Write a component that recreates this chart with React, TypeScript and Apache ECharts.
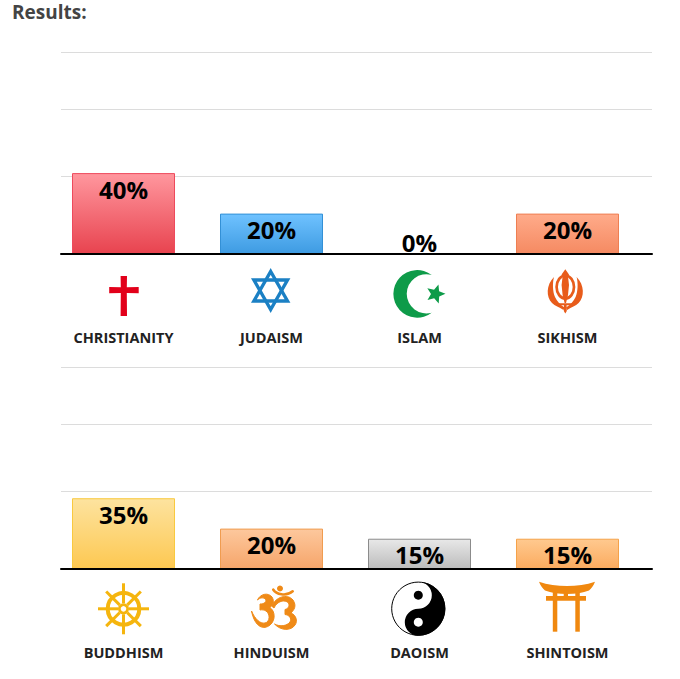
import React, { useEffect, useRef } from "react";
import * as echarts from "echarts";

const topCategories = ["CHRISTIANITY", "JUDAISM", "ISLAM", "SIKHISM"];
const topValues = [40, 20, 0, 20];
const bottomCategories = ["BUDDHISM", "HINDUISM", "DAOISM", "SHINTOISM"];
const bottomValues = [35, 20, 15, 15];
const gridValues = [38.6, 71.8, 100];
const topColors = [
  ["#ff979e", "#e8434f", "#ee4a5c"],
  ["#6fc2ff", "#3e9be2", "#3390d6"],
  ["#ffffff", "#ffffff", "#ffffff"],
  ["#ffab8a", "#f58a62", "#ee7f52"],
];
const bottomColors = [
  ["#fde39f", "#fdc851", "#f9c93f"],
  ["#fdc89d", "#f6a56a", "#f09c50"],
  ["#e8e8e8", "#bcbcbc", "#8b8b8b"],
  ["#ffc98f", "#fbab5f", "#f5a249"],
];

const FONT = "'Open Sans', sans-serif";

function starPath(cx: number, cy: number, R: number, r: number, rot: number) {
  let d = "";
  for (let i = 0; i < 10; i++) {
    const a = rot + (i * Math.PI) / 5;
    const q = i % 2 ? r : R;
    d += (i ? "L" : "M") + (cx + q * Math.cos(a)).toFixed(2) + " " + (cy + q * Math.sin(a)).toFixed(2);
  }
  return d + "Z";
}

const shapes: Record<string, string> = {
  cross: "M120.6 276L127 276L126.8 287.3L138.7 287L138.7 293.3L126.8 293L127 316L120.6 316L120.8 293L109.2 293.3L109.2 287L120.8 287.3Z",
  crescent: "M431.7 275A23.8 23.8 0 1 0 431.7 312.7A19.6 19.6 0 1 1 431.7 275Z",
  star: starPath(435.5, 294, 10, 4.5, -Math.PI / 2 + 0.3),
  khandaBlade: "M565.3 269.3L569 274.5L568 276.5L569 285L568 295L566 303L564.6 303L562.6 295L561.6 285L562.6 276.5L561.6 274.5Z",
  khandaLeft: "M554 277C546 285 546 297 552 303C555 306 559 307 563.5 310L564.5 307.5C560 305 557 301 555 297C552.5 291 552.5 283 554 277Z",
  khandaRight: "M576.6 277C584.6 285 584.6 297 578.6 303C575.6 306 571.6 307 567.1 310L566.1 307.5C570.6 305 573.6 301 575.6 297C578.1 291 578.1 283 576.6 277Z",
  khandaBase: "M558.5 303.3L572 303.3L572 305.2L566.6 305.2L566.8 311L565.3 313.5L563.8 311L564 305.2L558.5 305.2Z",
  omThree: "M257.5 600C260 594 268 592 272 597C275 602 272.5 605 270 607.5C275 611 276 620 270 625C264 630 255 628 251.5 611C255 619 260 624 265 623C270 622 270.5 614 266 611C264.5 610 262 609.5 260 610L260 604C264 604 267 602 265.5 599.5C264 597 260 597.5 257.5 600Z",
  omRight: "M271.5 606C276 597 287 593 293 600C297 606 294 610 291 613C296 615 298 621 295 625C291 631 281 631 274.5 624C280 627 287 626 290 622C292 618 289 615 285 614.5L285 609.5C288 609 290 606 288.5 603C285 599 277 601 274 608Z",
  omHook: "M273.3 589.7C276 594 286 597 292.7 591.3",
  yinBlack: "M418.3 581.7A27 27 0 0 1 418.3 635.7A13.5 13.5 0 0 1 418.3 608.7A13.5 13.5 0 0 0 418.3 581.7Z",
  toriiRoof: "M539 581.7C556 587.5 578 587.5 595 581.7C593.5 585.5 591.5 588.5 589 590.5C583 593 575 594 567 594C559 594 551 593 545 590.5C542.5 588.5 540.5 585.5 539 581.7Z",
  toriiBeam: "M546 596L586 596L586 600.7L546 600.7Z",
  toriiStrut: "M563.7 592L568 592L568 597L563.7 597Z",
  toriiPostL: "M552.8 591L557.3 591L557.3 631.7L552.8 631.7Z",
  toriiPostR: "M575.3 591L579.8 591L579.8 631.7L575.3 631.7Z",
};
Object.keys(shapes).forEach((k) => {
  echarts.graphic.registerShape(k, echarts.graphic.extendPath(shapes[k], {}));
});

function fillShape(type: string, fill: string, lineWidth = 0) {
  return { type, silent: true, style: { fill, stroke: lineWidth ? fill : "none", lineWidth } };
}
function strokeShape(type: string, stroke: string, lineWidth: number) {
  return { type, silent: true, style: { fill: "none", stroke, lineWidth, lineCap: "round" } };
}

function wheel(cx: number, cy: number, color: string) {
  const els: any[] = [
    { type: "circle", shape: { cx, cy, r: 15.8 }, style: { fill: "none", stroke: color, lineWidth: 4 } },
    { type: "circle", shape: { cx, cy, r: 4.2 }, style: { fill: "none", stroke: color, lineWidth: 2.8 } },
  ];
  for (let i = 0; i < 8; i++) {
    const a = (i * Math.PI) / 4;
    const diag = i % 2 === 1;
    const outer = diag ? 24.5 : 25.5;
    els.push({
      type: "line",
      shape: {
        x1: cx + 5.5 * Math.cos(a),
        y1: cy + 5.5 * Math.sin(a),
        x2: cx + outer * Math.cos(a),
        y2: cy + outer * Math.sin(a),
      },
      style: { stroke: color, lineWidth: 3 },
    });
  }
  return els;
}

function icons() {
  const blue = "#1b80c4";
  const sik = "#e85c1b";
  const om = "#ef8a17";
  const torii = "#f0880f";
  return [
    fillShape("cross", "#e2001a"),
    {
      type: "polygon",
      shape: { points: [[270.7, 271.5], [287.5, 301], [253.9, 301]] },
      style: { fill: "none", stroke: blue, lineWidth: 3.4 },
    },
    {
      type: "polygon",
      shape: { points: [[270.7, 309.5], [287.5, 280], [253.9, 280]] },
      style: { fill: "none", stroke: blue, lineWidth: 3.4 },
    },
    fillShape("crescent", "#0e9b49"),
    fillShape("star", "#0e9b49"),
    fillShape("khandaBlade", sik),
    fillShape("khandaLeft", sik),
    fillShape("khandaRight", sik),
    fillShape("khandaBase", sik),
    { type: "ellipse", shape: { cx: 565.3, cy: 287, rx: 8.7, ry: 11.5 }, style: { fill: "none", stroke: sik, lineWidth: 2.7 } },
    ...wheel(123.5, 608.8, "#f5b50e"),
    fillShape("omThree", om, 1),
    fillShape("omRight", om, 1),
    strokeShape("omHook", om, 2.6),
    { type: "circle", shape: { cx: 280, cy: 588.5, r: 3 }, style: { fill: om } },
    { type: "circle", shape: { cx: 418.3, cy: 608.7, r: 26.6 }, style: { fill: "#fff", stroke: "#000", lineWidth: 1 } },
    fillShape("yinBlack", "#000"),
    { type: "circle", shape: { cx: 418.3, cy: 595.2, r: 4.5 }, style: { fill: "#000" } },
    { type: "circle", shape: { cx: 418.3, cy: 622.2, r: 4.5 }, style: { fill: "#fff" } },
    fillShape("toriiRoof", torii),
    fillShape("toriiBeam", torii),
    fillShape("toriiStrut", torii),
    fillShape("toriiPostL", torii),
    fillShape("toriiPostR", torii),
  ];
}

function barData(values: number[], colors: string[][]) {
  return values.map((value, i) => ({
    value,
    itemStyle: {
      color: new echarts.graphic.LinearGradient(0, 0, 0, 1, [
        { offset: 0, color: colors[i][0] },
        { offset: 1, color: colors[i][1] },
      ]),
      borderColor: colors[i][2],
      borderWidth: value > 0 ? 1 : 0,
    },
    label: value > 0 ? { position: "insideTop", distance: 4 } : { position: "top", distance: 0 },
  }));
}

function barSeries(values: number[], colors: string[][], axisIndex: number) {
  return {
    type: "bar",
    xAxisIndex: axisIndex,
    yAxisIndex: axisIndex,
    barWidth: 103,
    z: 3,
    data: barData(values, colors),
    label: {
      show: true,
      formatter: "{c}%",
      fontFamily: FONT,
      fontWeight: "bold",
      fontSize: 24,
      color: "#000",
    },
  };
}

export default function App() {
  const ref = useRef<HTMLDivElement>(null);
  useEffect(() => {
    document.body.style.margin = "0";
    document.body.style.background = "#fff";
    const chart = echarts.init(ref.current!, undefined, { renderer: "svg" });
    const barTops = [51.6, 366.6];
    const lineTops = [52, 367];
    const barGrids = barTops.map((top) => ({ left: 49.5, width: 592, top, height: 202.5 }));
    const lineGrids = lineTops.map((top) => ({ left: 61, width: 591, top, height: 202 }));
    const cats = [topCategories, bottomCategories];
    chart.setOption({
      animation: false,
      backgroundColor: "#fff",
      title: {
        text: "Results:",
        left: 12,
        top: 2,
        padding: 0,
        textStyle: { fontFamily: FONT, fontWeight: "bold", fontSize: 19, color: "#444" },
      },
      grid: [...barGrids, ...lineGrids],
      xAxis: [
        ...cats.map((data, i) => ({
          type: "category",
          gridIndex: i,
          data,
          axisLine: { show: false },
          axisTick: { show: false },
          axisLabel: {
            interval: 0,
            margin: 76,
            fontFamily: FONT,
            fontWeight: "bold",
            fontSize: 14.5,
            color: "#222",
          },
        })),
        ...[2, 3].map((gridIndex) => ({
          type: "value",
          gridIndex,
          min: 0,
          max: 1,
          z: 5,
          splitLine: { show: false },
          axisTick: { show: false },
          axisLabel: { show: false },
          axisLine: { show: true, lineStyle: { color: "#000", width: 2 } },
        })),
      ],
      yAxis: [0, 1, 2, 3].map((gridIndex) => ({
        type: "value",
        gridIndex,
        min: 0,
        max: 100,
        axisLine: { show: false },
        axisLabel: { show: false },
        axisTick: gridIndex > 1 ? { show: false, customValues: gridValues } : { show: false },
        splitLine:
          gridIndex > 1
            ? { show: true, lineStyle: { color: "#dcdcdc", width: 1.2 } }
            : { show: false },
      })),
      series: [barSeries(topValues, topColors, 0), barSeries(bottomValues, bottomColors, 1)],
      graphic: { elements: icons() },
    });
    return () => chart.dispose();
  }, []);
  return <div ref={ref} style={{ width: 680, height: 679 }} />;
}
